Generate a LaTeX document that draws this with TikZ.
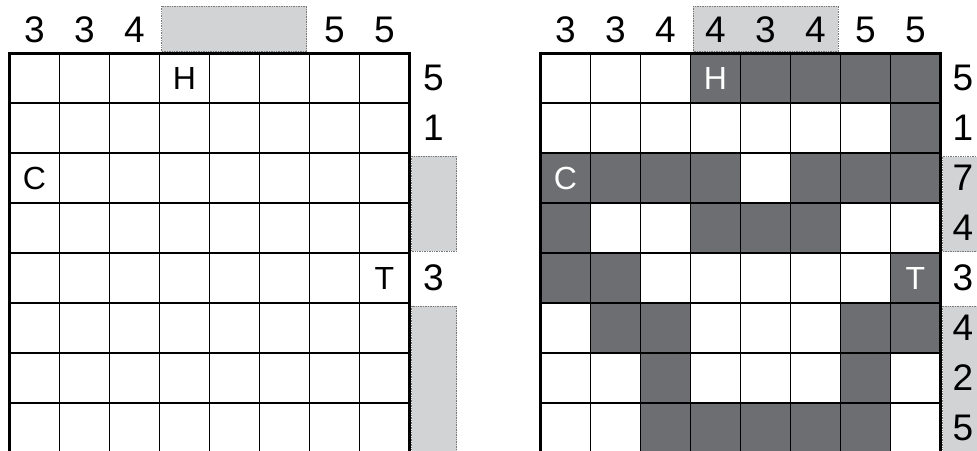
\documentclass[tikz,border=0pt]{standalone}
\usepackage{fontspec}
\setmainfont{Liberation Sans}
\definecolor{darkcell}{HTML}{6D6E71}
\definecolor{lgray}{HTML}{D1D3D4}
\definecolor{bgray}{HTML}{7A7A7A}
\begin{document}
\begin{tikzpicture}[x=1pt,y=-1pt,
  dig/.style={font=\fontsize{37}{37}\selectfont, inner sep=0pt},
  lett/.style={font=\fontsize{32}{32}\selectfont, inner sep=0pt},
  graybox/.style={fill=lgray, draw=bgray, densely dotted, line width=0.7pt},
  gridline/.style={line width=1.5pt, black},
  outerline/.style={line width=3pt, black, line cap=rect}]
\useasboundingbox (0,0) rectangle (977,450);
\clip (0,0) rectangle (977,450);

% ---------- left grid ----------
\path[graybox] (161.7,6) rectangle (306.7,51.7);
\path[graybox] (411.5,156) rectangle (456.7,251);
\path[graybox] (411.5,306) rectangle (456.7,470);
\foreach \c in {1,...,7} \draw[gridline] ({9.5+50*\c},53) -- ({9.5+50*\c},470);
\foreach \r in {1,...,8} \draw[gridline] (9.5,{53+50*\r}) -- (409.5,{53+50*\r});
\draw[outerline] (9.5,470) -- (9.5,53) -- (409.5,53) -- (409.5,470);
\foreach \c/\v in {1/3,2/3,3/4,7/5,8/5}
  \node[dig, name=lt\c] at ({34.5+50*(\c-1)},30) {\v};
\foreach \r/\v in {1/5,2/1,5/3}
  \node[dig, name=lr\r] at (433.5,{78+50*(\r-1)}) {\v};
\node[lett, name=lH] at (184.5,78) {H};
\node[lett, name=lC] at (34.5,178) {C};
\node[lett, name=lT] at (384.5,278) {T};

% ---------- right grid ----------
\path[graybox] (693.3,6) rectangle (838.3,51.7);
\path[graybox] (942.7,156.7) rectangle (990,251.7);
\path[graybox] (942.7,306) rectangle (990,470);
\foreach \r/\c in {1/4,1/5,1/6,1/7,1/8, 2/8, 3/1,3/2,3/3,3/4,3/6,3/7,3/8,
                   4/1,4/4,4/5,4/6, 5/1,5/2,5/8, 6/2,6/3,6/7,6/8, 7/3,7/7,
                   8/3,8/4,8/5,8/6,8/7}
  \fill[darkcell] ({540.5+50*(\c-1)},{53+50*(\r-1)}) rectangle ++(50,50);
\foreach \c in {1,...,7} \draw[gridline] ({540.5+50*\c},53) -- ({540.5+50*\c},470);
\foreach \r in {1,...,8} \draw[gridline] (540.5,{53+50*\r}) -- (940.5,{53+50*\r});
\draw[outerline] (540.5,470) -- (540.5,53) -- (940.5,53) -- (940.5,470);
\foreach \c/\v in {1/3,2/3,3/4,4/4,5/3,6/4,7/5,8/5}
  \node[dig, name=rt\c] at ({565.5+50*(\c-1)},30) {\v};
\foreach \r/\v in {1/5,2/1,3/7,4/4,5/3,6/4,7/2,8/5}
  \node[dig, name=rr\r] at (963,{78+50*(\r-1)}) {\v};
\node[lett, white, name=rH] at (715.5,78) {H};
\node[lett, white, name=rC] at (565.5,178) {C};
\node[lett, white, name=rT] at (915.5,278) {T};
\end{tikzpicture}
\end{document}
